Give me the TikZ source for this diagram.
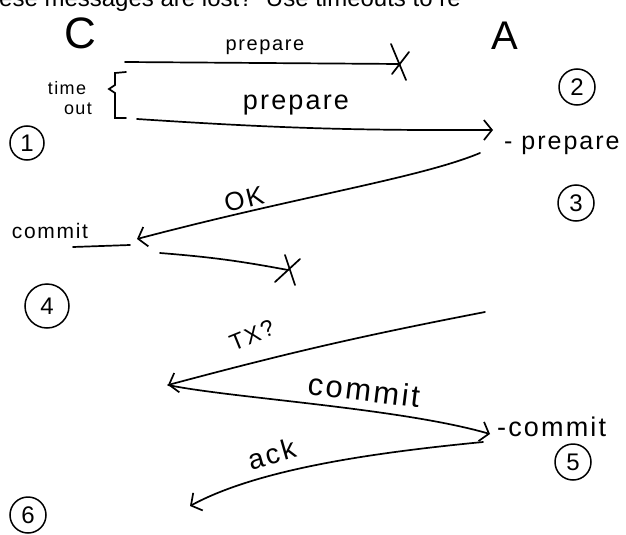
\documentclass[tikz,border=0pt]{standalone}
\usepackage{fontspec}
\setmainfont{Liberation Sans}
\newfontfamily\handfont[LetterSpace=8]{Liberation Sans}
\usetikzlibrary{arrows.meta}

\newcommand{\handsize}[1]{\handfont\fontsize{#1}{#1}\selectfont}

\begin{document}
\begin{tikzpicture}[x=1pt,y=-1pt]
\tikzset{msg/.style = {line width=1.7pt, line cap=round, -{Straight Barb[length=8pt,width=20pt,line width=1.7pt]}},
  lost/.style = {line width=1.7pt, line cap=round},
  numbox/.style = {draw, circle, line width=1.5pt, inner sep=0pt, minimum size=36pt, font=\handsize{24}},
  lbl/.style = {inner sep=0pt, font=\handsize{22}}
}

\useasboundingbox (0,0) rectangle (626,535);
\clip (0,0) rectangle (626,535);

% heading, cut by the top edge
\node[anchor=base west, inner sep=0pt, font=\fontsize{24}{24}\selectfont] (head) at (-1,7) {ese messages are lost?\ \ Use timeouts to re};

% the two sides
\node[font=\fontsize{44}{44}\selectfont] (C) at (80,33) {C};
\node[font=\fontsize{40}{40}\selectfont] (A) at (505,36) {A};

% first prepare, lost on the way
\coordinate (p1c) at (125,62);
\coordinate (x1) at (400,64);
\draw[lost] (p1c) -- (x1);
\draw[lost] (x1) +(-9,-20) -- +(6,16) (x1) +(9,-12) -- +(-8,10);
\node[lbl, font=\handsize{20}] (prep1) at (265,47) {prepare};

% timeout brace
\draw[lost] (126,72) -- (115,73) -- (115,85) -- (109,89) -- (115,93) -- (115,118) -- (126,118);
\node[lbl, font=\handsize{18}] (tout1) at (67,88) {time};
\node[lbl, font=\handsize{18}] (tout2) at (78,109) {out};

% second prepare arrives
\coordinate (p2c) at (137,119);
\coordinate (p2a) at (493,130);
\draw[msg] (p2c) to[bend right=2] (p2a);
\node[lbl, font=\handsize{27}] (prep2) at (296,105) {prepare};
\node[lbl, anchor=base west, font=\handsize{25}] (prepA) at (504,149) {- prepare};

% OK back to C
\coordinate (okA) at (480,153);
\coordinate (okC) at (137,239);
\draw[msg] (okA) .. controls (420,178) and (300,196) .. (okC);
\node[lbl, rotate=14, font=\handsize{26}] (ok) at (244,199) {OK};
\node[lbl, font=\handsize{21}] (commitC) at (50,231) {commit};
\draw[lost] (73,247) -- (130,245);

% commit, lost on the way
\coordinate (cmc) at (160,253);
\coordinate (x2) at (288,270);
\draw[lost] (cmc) to[bend left=3] (x2);
\draw[lost] (x2) +(-3,-15) -- +(7,15) (x2) +(12,-11) -- +(-13,12);

% A asks, C answers
\coordinate (txA) at (485,312);
\coordinate (txC) at (168,385);
\draw[msg] (txA) to[bend right=2] (txC);
\node[lbl, rotate=22, font=\handsize{23}] (tx) at (252,335) {TX?};

\coordinate (cmA) at (490,434);
\draw[msg] (txC) .. controls (230,398) and (400,408) .. (cmA);
\node[lbl, rotate=-7, font=\handsize{31}] (cm) at (364,390) {commit};
\node[lbl, anchor=base west, font=\handsize{27}] (cmAlbl) at (497,436) {-commit};

\coordinate (ackA) at (483,442);
\coordinate (ackC) at (190,506);
\draw[msg] (ackA) .. controls (380,452) and (260,468) .. (ackC);
\node[lbl, rotate=16, font=\handsize{28}] (ack) at (272,454) {ack};

% numbered steps
\node[numbox, minimum size=34pt] (n1) at (27,143) {1};
\node[numbox] (n2) at (577,87) {2};
\node[numbox] (n3) at (576,203) {3};
\node[numbox, minimum size=44pt] (n4) at (47,306) {4};
\node[numbox] (n5) at (573,462) {5};
\node[numbox] (n6) at (28,515) {6};
\end{tikzpicture}
\end{document}
